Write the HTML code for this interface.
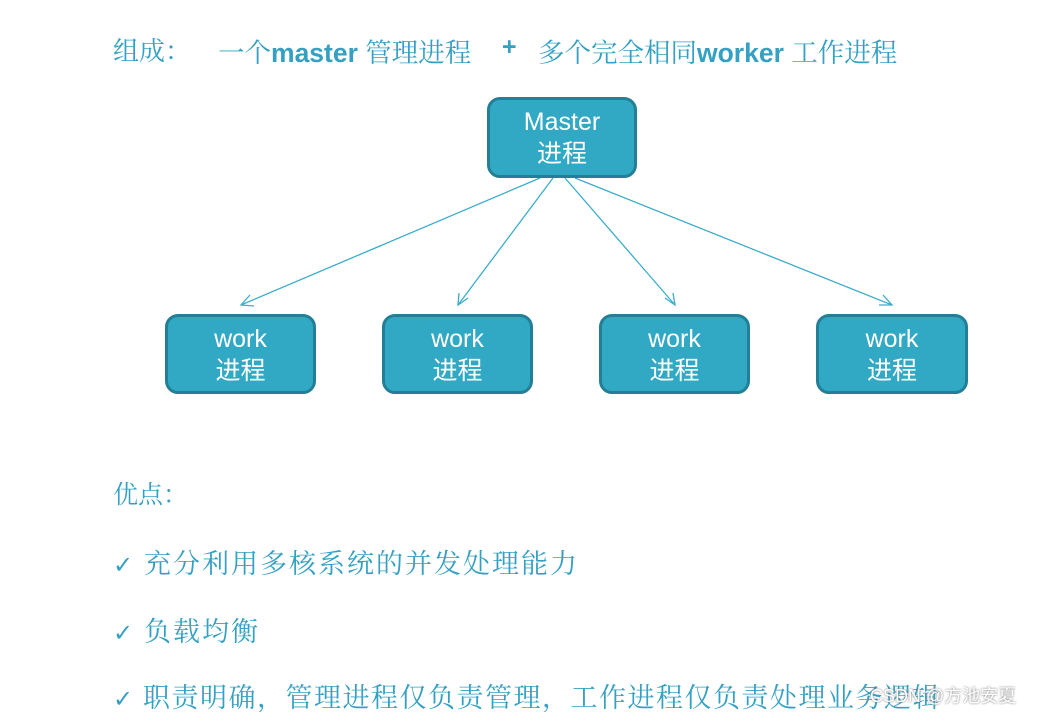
<!DOCTYPE html>
<html><head><meta charset="utf-8"><style>
body{margin:0;width:1043px;height:713px;background:#fff;position:relative;overflow:hidden;font-family:"Liberation Sans","Noto Sans CJK SC",sans-serif;}
.t{position:absolute;white-space:nowrap;color:#36a0c2;}
.s{font-family:"Noto Serif CJK SC","Noto Sans CJK SC",serif;}
.b{position:absolute;background:#31a8c4;border:3px solid #237f96;border-radius:13px;box-sizing:border-box;color:#fff;text-align:center;font-size:25px;line-height:32px;padding-top:6px;font-family:"Liberation Sans","Noto Sans CJK SC",sans-serif;}
</style></head><body>
<div class="t s" style="left:113px;top:31px;font-size:26px;">组成：</div>
<div class="t" style="left:218px;top:31px;font-size:26.5px;"><span class="s">一个</span><b>master</b> <span class="s">管理进程</span></div>
<div class="t" style="left:502px;top:33px;font-size:25px;font-weight:bold;">+</div>
<div class="t" style="left:538px;top:31px;font-size:26.5px;"><span class="s">多个完全相同</span><b>worker</b> <span class="s">工作进程</span></div>

<svg style="position:absolute;left:0;top:0" width="1043" height="713">
<g stroke="#3aaccb" stroke-width="1.3" fill="none">
<line x1="540" y1="178" x2="241" y2="305"/><polyline points="250,295 241,305 254,306"/>
<line x1="553" y1="178" x2="458" y2="305"/><polyline points="459,293 458,305 468,298"/>
<line x1="565" y1="178" x2="675" y2="305"/><polyline points="665,298 675,305 673,293"/>
<line x1="575" y1="178" x2="892" y2="305"/><polyline points="879,305 892,305 883,295"/>
</g></svg>

<div class="b" style="left:487px;top:97px;width:150px;height:81px;">Master<br>进程</div>
<div class="b" style="left:165px;top:314px;width:151px;height:80px;">work<br>进程</div>
<div class="b" style="left:382px;top:314px;width:151px;height:80px;">work<br>进程</div>
<div class="b" style="left:599px;top:314px;width:151px;height:80px;">work<br>进程</div>
<div class="b" style="left:816px;top:314px;width:152px;height:80px;">work<br>进程</div>

<div class="t s" style="left:113px;top:475px;font-size:25px;">优点：</div>
<div class="t s" style="left:113px;top:542px;font-size:27px;letter-spacing:2px;"><span style="font-family:'DejaVu Sans',sans-serif;font-size:24px">✓</span> 充分利用多核系统的并发处理能力</div>
<div class="t s" style="left:113px;top:610px;font-size:27px;letter-spacing:2px;"><span style="font-family:'DejaVu Sans',sans-serif;font-size:24px">✓</span> 负载均衡</div>
<div class="t s" style="left:113px;top:676px;font-size:27px;letter-spacing:1.5px;"><span style="font-family:'DejaVu Sans',sans-serif;font-size:24px">✓</span> 职责明确，管理进程仅负责管理，工作进程仅负责处理业务逻辑</div>
<div class="t" style="left:870px;top:682px;font-size:18px;color:#fff;text-shadow:0 0 2px #666;">CSDN @方池安夏</div>
</body></html>
